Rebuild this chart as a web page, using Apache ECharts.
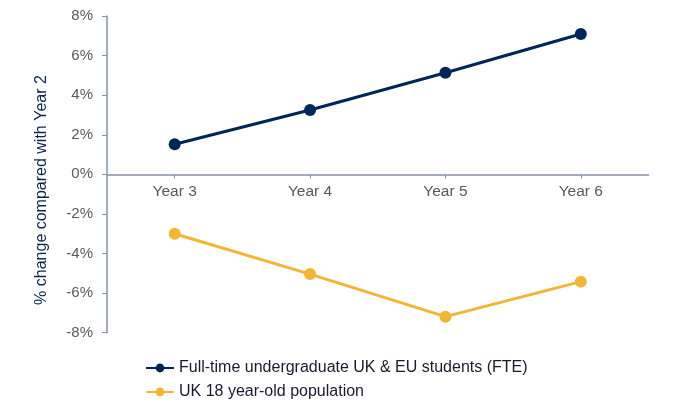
<!DOCTYPE html>
<html><head><meta charset="utf-8">
<script src="https://cdn.jsdelivr.net/npm/echarts@6/dist/echarts.min.js"></script>
<style>html,body{margin:0;padding:0;background:#fff}#c{width:674px;height:420px}</style>
</head><body><div id="c"></div>
<script>
const categories = ['Year 3', 'Year 4', 'Year 5', 'Year 6'];
const fteStudents = [1.52, 3.25, 5.13, 7.09];
const population18 = [-3.0, -5.04, -7.19, -5.42];
const yTicks = { min: -8, max: 8, interval: 2 };
const yName = '% change compared with Year 2';

const chart = echarts.init(document.getElementById('c'));
const font = 'Liberation Sans, Arial, sans-serif';
const axisColor = '#8593ab';
const gridTop = 16, gridBottom = 87.3, H = 420;
const gridH = H - gridTop - gridBottom;
// x axis sits at value 0
const zeroOffset = -gridH * (0 - yTicks.min) / (yTicks.max - yTicks.min);
chart.setOption({
  animation: false,
  grid: { left: 107, right: 25.5, top: gridTop, bottom: gridBottom },
  graphic: [{
    type: 'text', x: 42, y: 190, rotation: Math.PI / 2,
    style: { text: yName, font: '16px ' + font, fill: '#0d2447', align: 'center', verticalAlign: 'middle' }
  }],
  legend: {
    orient: 'vertical', left: 140, top: 355, itemGap: 8, itemWidth: 28, itemHeight: 11,
    textStyle: { fontFamily: font, fontSize: 16, color: '#1a1a2e' },
    data: ['Full-time undergraduate UK & EU students (FTE)', 'UK 18 year-old population']
  },
  xAxis: {
    type: 'category', data: categories, boundaryGap: true, offset: zeroOffset,
    axisLine: { onZero: false, lineStyle: { color: axisColor, width: 1.5 } },
    axisTick: { show: true, alignWithLabel: true, length: 4, lineStyle: { color: axisColor } },
    axisLabel: { fontFamily: font, fontSize: 15.5, color: '#595959', margin: 9 }
  },
  yAxis: {
    type: 'value', min: yTicks.min, max: yTicks.max, interval: yTicks.interval,
    axisLine: { show: true, lineStyle: { color: axisColor, width: 1.5 } },
    axisTick: { show: true, length: 5, lineStyle: { color: axisColor } },
    splitLine: { show: false },
    axisLabel: { fontFamily: font, fontSize: 15, color: '#595959', margin: 14, formatter: v => v + '%' }
  },
  series: [
    { name: 'Full-time undergraduate UK & EU students (FTE)', type: 'line', data: fteStudents,
      symbol: 'circle', symbolSize: 12, color: '#002557',
      lineStyle: { width: 3, color: '#002557' }, itemStyle: { color: '#002557' } },
    { name: 'UK 18 year-old population', type: 'line', data: population18,
      symbol: 'circle', symbolSize: 12, color: '#f2b535',
      lineStyle: { width: 3, color: '#f2b535' }, itemStyle: { color: '#f2b535' } }
  ]
});
</script></body></html>
